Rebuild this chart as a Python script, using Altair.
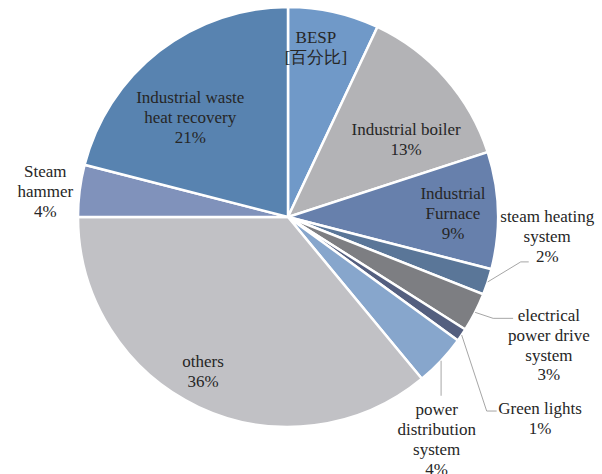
import math
import altair as alt
import pandas as pd

categories = ["BESP", "Industrial boiler", "Industrial Furnace", "steam heating system",
              "electrical power drive system", "Green lights", "power distribution system",
              "others", "Steam hammer", "Industrial waste heat recovery"]
values = [7, 13, 9, 2, 3, 1, 4, 36, 4, 21]
label_texts = ["BESP\n[百分比]", "Industrial boiler\n13%", "Industrial\nFurnace\n9%",
               "steam heating\nsystem\n2%", "electrical\npower drive\nsystem\n3%",
               "Green lights\n1%", "power\ndistribution\nsystem\n4%", "others\n36%",
               "Steam\nhammer\n4%", "Industrial waste\nheat recovery\n21%"]
colors = ["#7099c8", "#b3b3b6", "#6780ac", "#5a7698", "#7d7e82",
          "#545f7f", "#87a6cc", "#c1c1c5", "#8092bb", "#5883b0"]

# style: chart centre, radius, label placement (radius, angular shift in degrees)
CX, CY, R = 288, 217, 210
LH = 19.7
label_r = [171, 141, 165, 260, 291, 323, 268, 177, 244, 139]
label_shift = [-3.2, 8.3, 0.8, -13.6, -0.7, 4.5, 13.1, 3.5, -1.3, -6.9]
# leader lines: (elbow dx, elbow dy, horizontal tail) for outside labels
leaders = {3: (33, -20, 8), 4: (18, 6, 20), 5: (25, 76, 10), 6: (0, 35, 0)}

total = sum(values)
mids = []
acc = 0
for v in values:
    mids.append((acc + v / 2) / total * 360)
    acc += v

def polar(angle_deg, r):
    a = math.radians(angle_deg)
    return CX + r * math.sin(a), CY - r * math.cos(a)

df = pd.DataFrame({"cat": categories, "value": values, "order": list(range(len(values)))})

lab_rows = []
for i, t in enumerate(label_texts):
    x, y = polar(mids[i] + label_shift[i], label_r[i])
    n = t.count("\n") + 1
    lab_rows.append({"cat": categories[i], "text": t, "x": x, "y": y - (n - 1) * LH / 2})
lab_df = pd.DataFrame(lab_rows)

line_rows = []
for i, (ex, ey, h) in leaders.items():
    sx, sy = polar(mids[i], R)
    pts = [(sx, sy), (sx + ex, sy + ey), (sx + ex + h, sy + ey)]
    for k, (px, py) in enumerate(pts):
        line_rows.append({"cat": categories[i], "k": k, "x": px, "y": py})
line_df = pd.DataFrame(line_rows)

pie = alt.Chart(df).mark_arc(radius=R, stroke="white", strokeWidth=2.5).encode(
    theta=alt.Theta("value:Q", stack=True),
    order=alt.Order("order:Q"),
    color=alt.Color("cat:N", scale=alt.Scale(domain=categories, range=colors), legend=None),
    x=alt.value(CX),
    y=alt.value(CY),
)

lines = alt.Chart(line_df).mark_line(color="#a6a6a6", strokeWidth=1).encode(
    x=alt.X("x:Q", scale=None, axis=None),
    y=alt.Y("y:Q", scale=None, axis=None),
    detail="cat:N",
    order="k:Q",
)

labels = alt.Chart(lab_df).mark_text(
    font="Liberation Serif", fontSize=17,
    color="#262626", lineBreak="\n",
    lineHeight=LH, align="center", baseline="middle"
).encode(
    x=alt.X("x:Q", scale=None, axis=None),
    y=alt.Y("y:Q", scale=None, axis=None),
    text="text:N",
)

chart = alt.layer(pie, lines, labels).properties(
    width=602, height=474, padding=0,
    autosize=alt.AutoSizeParams(type="none"),
).configure_view(stroke=None)

chart.save("out.html", embed_options={"renderer": "svg", "actions": False})
